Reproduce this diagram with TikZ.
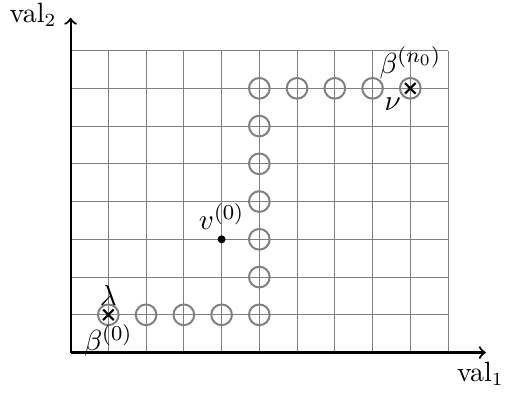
\documentclass[tikz,border=0pt]{standalone}
\begin{document}
\begin{tikzpicture}[x=0.5cm,y=0.5cm,
  gridline/.style={gray, line width=0.4pt},
  axis/.style={thick, ->},
  ring/.style={circle, draw=gray, line width=0.75pt, minimum size=7.8pt, inner sep=0pt},
  xmark/.style={thick, black},
  lbl/.style={font=\fontsize{11.2}{13}\selectfont},
  axlbl/.style={font=\fontsize{10.5}{12}\selectfont}]
\useasboundingbox (-1.87,-1.23) rectangle (11.535,9.34);
\draw[gridline, step=0.5cm] (0,0) grid (10,8);
\coordinate (O) at (0,0);
\coordinate (xe) at (11,0);
\coordinate (ye) at (0,8.87);
\draw[axis] (O) -- (xe);
\draw[axis] (O) -- (ye);
\node[axlbl, anchor=north east, xshift=10.3pt] (l1) at (xe) {val$_1$};
\node[axlbl, anchor=base east, xshift=-1.8pt, yshift=-1.8pt] (l2) at (ye) {val$_2$};
% rings
\foreach \i in {1,...,5} \node[ring] (b\i) at (\i,1) {};
\foreach \j in {2,...,7} \node[ring] (c\j) at (5,\j) {};
\foreach \i in {6,...,9} \node[ring] (d\i) at (\i,7) {};
% crosses
\foreach \p in {b1,d9} {
  \draw[xmark] ([shift={(-2pt,-2pt)}]\p.center) -- ([shift={(2pt,2pt)}]\p.center);
  \draw[xmark] ([shift={(-2pt,2pt)}]\p.center) -- ([shift={(2pt,-2pt)}]\p.center);
}
\node[above, lbl] (lam) at (b1.center) {$\lambda$};
\node[below, lbl] (beta0) at (b1.center) {$\beta^{(0)}$};
\node[above, lbl] (betan) at (d9.center) {$\beta^{(n_0)}$};
\node[below left, lbl] (nu) at (d9.center) {$\nu$};
\fill (4,3) circle (1.5pt) coordinate (v);
\node[above, lbl] (vl) at (v) {$v^{(0)}$};
\end{tikzpicture}
\end{document}
